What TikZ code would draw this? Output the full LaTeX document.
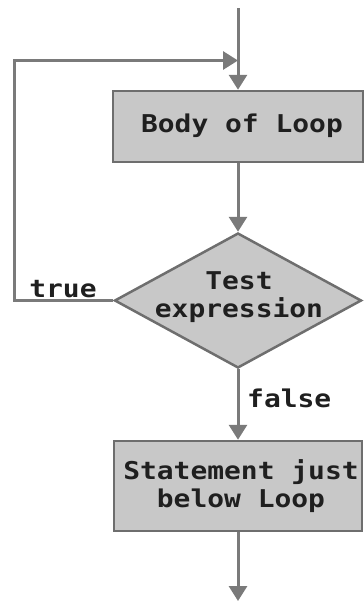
\documentclass[tikz,border=0pt]{standalone}
\usepackage{fontspec}
\newfontfamily\flowmono[FakeStretch=1.14]{DejaVu Sans Mono}
\usetikzlibrary{shapes.geometric,arrows.meta}
\definecolor{linegray}{HTML}{7A7A7A}
\definecolor{boxfill}{HTML}{C8C8C8}
\definecolor{boxline}{HTML}{6E6E6E}
\begin{document}
\begin{tikzpicture}[x=1pt,y=-1pt,
  conn/.style={draw=linegray, line width=3pt},
  arr/.style={conn, -{Triangle[length=15pt,width=18pt]}},
  txt/.style={font=\flowmono\bfseries\fontsize{24.5}{28}\selectfont, text=black!88, inner sep=0pt, align=center},
  procbox/.style={rectangle, draw=boxline, fill=boxfill, line width=2.5pt, inner sep=0pt},
  decbox/.style={diamond, draw=boxline, fill=boxfill, line width=2.5pt, inner sep=0pt}]
\useasboundingbox (0,0) rectangle (364,603);
\node[procbox, minimum width=250pt, minimum height=71pt] (body) at (238,126.5) {};
\node[txt] (bodyt) at (242,126) {Body of Loop};
\node[decbox, minimum width=247pt, minimum height=135pt] (test) at (238,300.5) {};
\node[txt] (testt) at (239,297) {Test\\expression};
\node[procbox, minimum width=248pt, minimum height=90pt] (stmt) at (238,486) {};
\node[txt] (stmtt) at (241,486) {Statement just\\below Loop};
\coordinate (start) at (238,8);
\coordinate (finish) at (238,601);
\coordinate (join) at (238,60.5);
\coordinate (corner) at (14,60.5);
\draw[arr] (start) -- (body.north);
\draw[arr] (test.west) -- (test.west -| corner) -- (corner) -- (join);
\draw[arr] (body.south) -- (test.north);
\draw[arr] (test.south) -- (stmt.north);
\draw[arr] (stmt.south) -- (finish);
\node[txt, anchor=base] (truel) at (63,297) {true};
\node[txt, anchor=base west] (falsel) at (247,407) {false};
\end{tikzpicture}
\end{document}
